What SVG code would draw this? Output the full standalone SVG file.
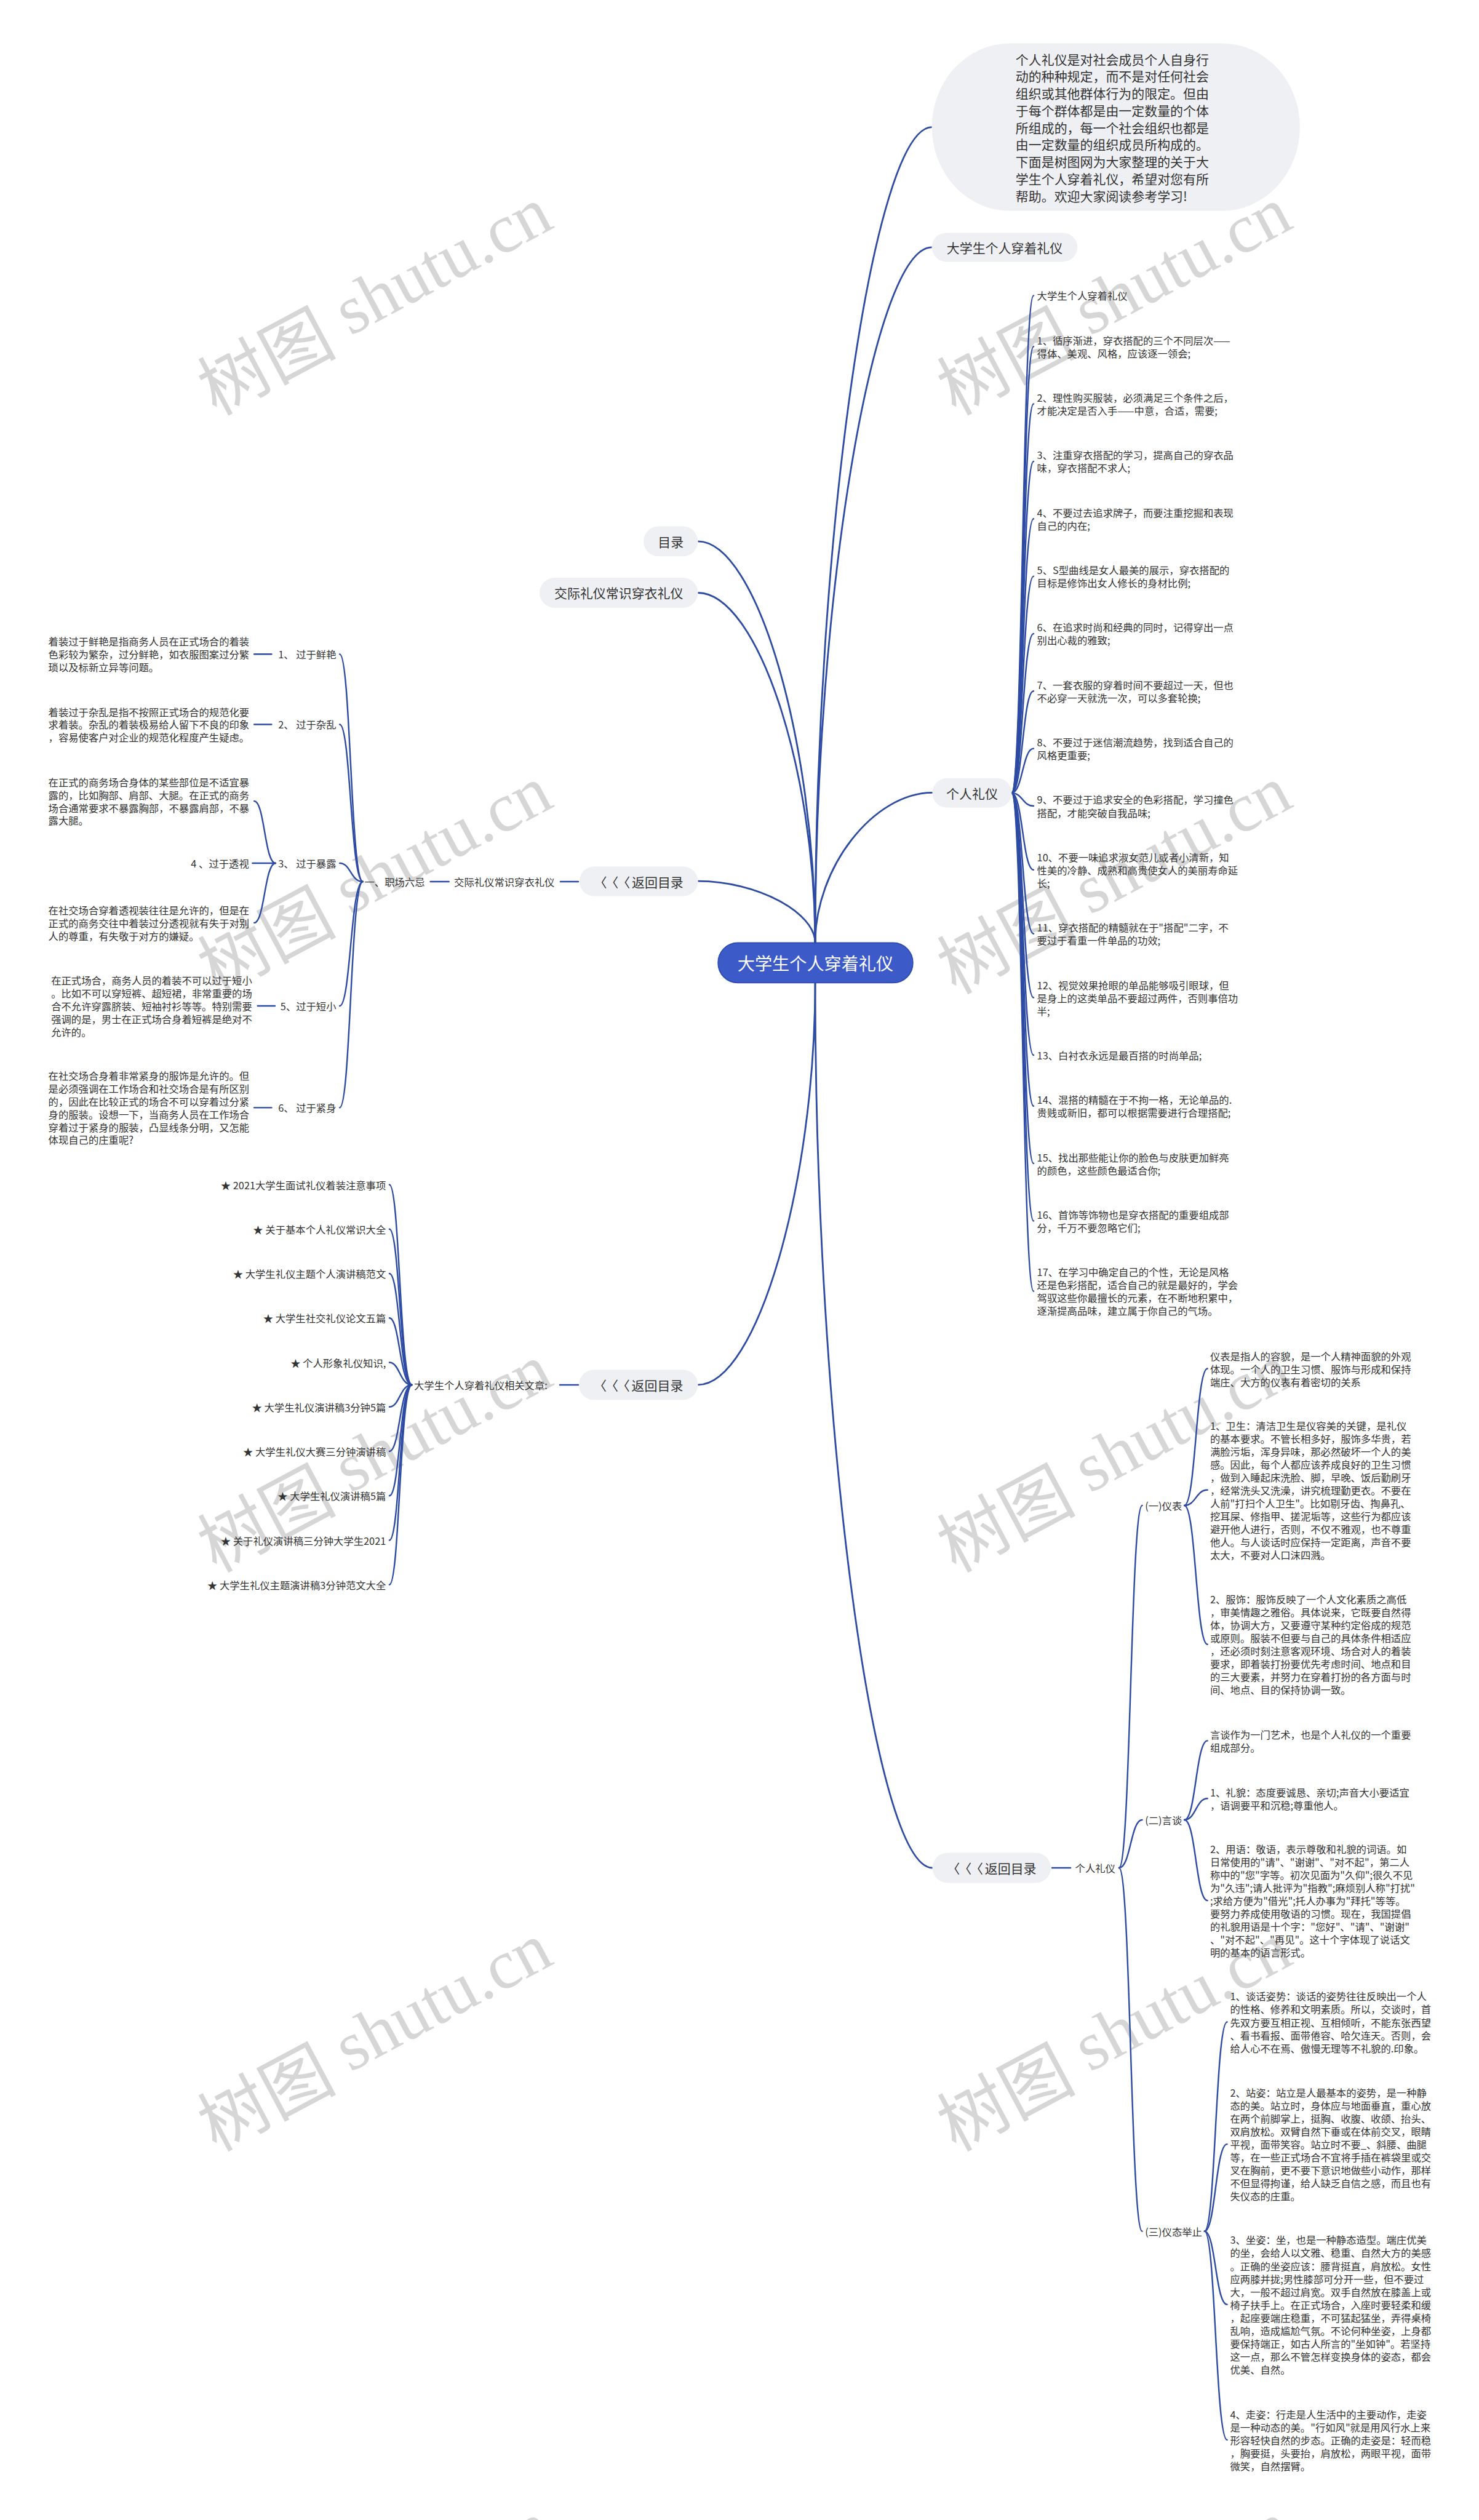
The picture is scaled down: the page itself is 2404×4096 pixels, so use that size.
<svg xmlns="http://www.w3.org/2000/svg" width="2404" height="4096" viewBox="0 0 2404 4096">
<style>
.wm{font-size:120px;fill:#d6d6d6}
.cj{font-family:"Noto Sans CJK SC",sans-serif}
.lt{font-family:"Liberation Serif",serif}
.nd{fill:#eef0f4}
.ln{fill:none;stroke:#2e4ba3;stroke-width:2.6;stroke-linecap:round}
.mln{fill:none;stroke:#2e4ba3;stroke-width:3}
text{font-family:"Noto Sans CJK SC","Noto Sans",sans-serif;fill:#333;dominant-baseline:central}
tspan{dominant-baseline:central}
.s{font-size:17.4px}
.m{font-size:22.3px}
.e{text-anchor:end}
.c{text-anchor:middle}
.root{fill:#3c5bc9;stroke:#2f4cb0;stroke-width:2}
.rt{font-size:30px;fill:#fff;text-anchor:middle}
</style>
<rect width="2404" height="4096" fill="#fff"/>
<g transform="scale(0.93906)">
<g id="watermarks">
<text class="wm" text-anchor="middle" transform="translate(646 515) rotate(-28)"><tspan class="cj">树图</tspan><tspan class="lt"> shutu.cn</tspan></text>
<text class="wm" text-anchor="middle" transform="translate(1926 515) rotate(-28)"><tspan class="cj">树图</tspan><tspan class="lt"> shutu.cn</tspan></text>
<text class="wm" text-anchor="middle" transform="translate(646 1517) rotate(-28)"><tspan class="cj">树图</tspan><tspan class="lt"> shutu.cn</tspan></text>
<text class="wm" text-anchor="middle" transform="translate(1926 1517) rotate(-28)"><tspan class="cj">树图</tspan><tspan class="lt"> shutu.cn</tspan></text>
<text class="wm" text-anchor="middle" transform="translate(646 2518) rotate(-28)"><tspan class="cj">树图</tspan><tspan class="lt"> shutu.cn</tspan></text>
<text class="wm" text-anchor="middle" transform="translate(1926 2518) rotate(-28)"><tspan class="cj">树图</tspan><tspan class="lt"> shutu.cn</tspan></text>
<text class="wm" text-anchor="middle" transform="translate(646 3520) rotate(-28)"><tspan class="cj">树图</tspan><tspan class="lt"> shutu.cn</tspan></text>
<text class="wm" text-anchor="middle" transform="translate(1926 3520) rotate(-28)"><tspan class="cj">树图</tspan><tspan class="lt"> shutu.cn</tspan></text>
<text class="wm" text-anchor="middle" transform="translate(646 4521) rotate(-28)"><tspan class="cj">树图</tspan><tspan class="lt"> shutu.cn</tspan></text>
<text class="wm" text-anchor="middle" transform="translate(1926 4521) rotate(-28)"><tspan class="cj">树图</tspan><tspan class="lt"> shutu.cn</tspan></text>
</g>
<g id="connectors">
<path class="mln" d="M1411 1632 C1411 926 1512 220 1613 220"/>
<path class="mln" d="M1411 1632 C1411 1030 1512 428 1613 428"/>
<path class="mln" d="M1411 1632 C1411 1284 1310 937 1208 937"/>
<path class="mln" d="M1411 1632 C1411 1329 1310 1026 1208 1026"/>
<path class="mln" d="M1411 1632 C1411 1579 1310 1525 1208 1525"/>
<path class="mln" d="M1411 1632 C1411 1502 1512 1372 1614 1372"/>
<path class="mln" d="M1411 1701 C1411 2049 1310 2397 1208 2397"/>
<path class="mln" d="M1411 1701 C1411 2467 1512 3233 1614 3233"/>
<path class="ln" d="M1751 1372.5 C1770 1372.5 1770 511.6 1789 511.6"/>
<path class="ln" d="M1751 1372.5 C1770 1372.5 1770 599.8 1789 599.8"/>
<path class="ln" d="M1751 1372.5 C1770 1372.5 1770 699.2 1789 699.2"/>
<path class="ln" d="M1751 1372.5 C1770 1372.5 1770 798.6 1789 798.6"/>
<path class="ln" d="M1751 1372.5 C1770 1372.5 1770 898 1789 898"/>
<path class="ln" d="M1751 1372.5 C1770 1372.5 1770 997.4 1789 997.4"/>
<path class="ln" d="M1751 1372.5 C1770 1372.5 1770 1096.8 1789 1096.8"/>
<path class="ln" d="M1751 1372.5 C1770 1372.5 1770 1196.2 1789 1196.2"/>
<path class="ln" d="M1751 1372.5 C1770 1372.5 1770 1295.6 1789 1295.6"/>
<path class="ln" d="M1751 1372.5 C1770 1372.5 1770 1395 1789 1395"/>
<path class="ln" d="M1751 1372.5 C1770 1372.5 1770 1505.6 1789 1505.6"/>
<path class="ln" d="M1751 1372.5 C1770 1372.5 1770 1616.2 1789 1616.2"/>
<path class="ln" d="M1751 1372.5 C1770 1372.5 1770 1726.8 1789 1726.8"/>
<path class="ln" d="M1751 1372.5 C1770 1372.5 1770 1826.2 1789 1826.2"/>
<path class="ln" d="M1751 1372.5 C1770 1372.5 1770 1914.4 1789 1914.4"/>
<path class="ln" d="M1751 1372.5 C1770 1372.5 1770 2013.8 1789 2013.8"/>
<path class="ln" d="M1751 1372.5 C1770 1372.5 1770 2113.2 1789 2113.2"/>
<path class="ln" d="M1751 1372.5 C1770 1372.5 1770 2235 1789 2235"/>
<path class="ln" d="M1001 1526 L970 1526"/>
<path class="ln" d="M777 1526 L745 1526"/>
<path class="ln" d="M628 1526 C607 1526 607 1132.2 588 1132.2"/>
<path class="ln" d="M628 1526 C607 1526 607 1253.9 588 1253.9"/>
<path class="ln" d="M628 1526 C607 1526 607 1494 588 1494"/>
<path class="ln" d="M628 1526 C607 1526 607 1741.1 588 1741.1"/>
<path class="ln" d="M628 1526 C607 1526 607 1917.2 588 1917.2"/>
<path class="ln" d="M470 1132.2 L440 1132.2"/>
<path class="ln" d="M470 1253.9 L440 1253.9"/>
<path class="ln" d="M476 1741.1 L446 1741.1"/>
<path class="ln" d="M470 1917.2 L440 1917.2"/>
<path class="ln" d="M477 1494 C458 1494 458 1386.6 440 1386.6"/>
<path class="ln" d="M477 1494 L437 1494"/>
<path class="ln" d="M477 1494 C458 1494 458 1597.2 440 1597.2"/>
<path class="ln" d="M1001 2397 L969 2397"/>
<path class="ln" d="M713 2397 C692 2397 692 2050.5 674 2050.5"/>
<path class="ln" d="M713 2397 C692 2397 692 2127.4 674 2127.4"/>
<path class="ln" d="M713 2397 C692 2397 692 2204.4 674 2204.4"/>
<path class="ln" d="M713 2397 C692 2397 692 2281.3 674 2281.3"/>
<path class="ln" d="M713 2397 C692 2397 692 2358.3 674 2358.3"/>
<path class="ln" d="M713 2397 C692 2397 692 2435.2 674 2435.2"/>
<path class="ln" d="M713 2397 C692 2397 692 2512.1 674 2512.1"/>
<path class="ln" d="M713 2397 C692 2397 692 2589.1 674 2589.1"/>
<path class="ln" d="M713 2397 C692 2397 692 2666 674 2666"/>
<path class="ln" d="M713 2397 C692 2397 692 2743 674 2743"/>
<path class="ln" d="M1821 3233 L1853 3233"/>
<path class="ln" d="M1937 3233 C1957 3233 1957 2605.7 1977 2605.7"/>
<path class="ln" d="M1937 3233 C1957 3233 1957 3150 1977 3150"/>
<path class="ln" d="M1937 3233 C1957 3233 1957 3862 1977 3862"/>
<path class="ln" d="M2050 2605.7 C2070 2605.7 2070 2368.9 2090 2368.9"/>
<path class="ln" d="M2050 2605.7 C2070 2605.7 2070 2579 2090 2579"/>
<path class="ln" d="M2050 2605.7 C2070 2605.7 2070 2846.2 2090 2846.2"/>
<path class="ln" d="M2050 3150 C2070 3150 2070 3013 2090 3013"/>
<path class="ln" d="M2050 3150 C2070 3150 2070 3113 2090 3113"/>
<path class="ln" d="M2050 3150 C2070 3150 2070 3289.6 2090 3289.6"/>
<path class="ln" d="M2085 3862 C2104 3862 2104 3499.8 2124 3499.8"/>
<path class="ln" d="M2085 3862 C2104 3862 2104 3711.3 2124 3711.3"/>
<path class="ln" d="M2085 3862 C2104 3862 2104 3988.7 2124 3988.7"/>
<path class="ln" d="M2085 3862 C2104 3862 2104 4223.1 2124 4223.1"/>
</g>
<g id="root"><rect class="root" x="1243" y="1632" width="337" height="69" rx="34"/><text class="rt" x="1411.5" y="1666.5">大学生个人穿着礼仪</text></g>
<g id="intro"><rect class="nd" x="1613" y="75" width="637" height="290" rx="135" ry="145"/>
<text class="m" x="1758" y="101.7"><tspan x="1758">个人礼仪是对社会成员个人自身行</tspan><tspan x="1758" dy="29.6">动的种种规定，而不是对任何社会</tspan><tspan x="1758" dy="29.6">组织或其他群体行为的限定。但由</tspan><tspan x="1758" dy="29.6">于每个群体都是由一定数量的个体</tspan><tspan x="1758" dy="29.6">所组成的，每一个社会组织也都是</tspan><tspan x="1758" dy="29.6">由一定数量的组织成员所构成的。</tspan><tspan x="1758" dy="29.6">下面是树图网为大家整理的关于大</tspan><tspan x="1758" dy="29.6">学生个人穿着礼仪，希望对您有所</tspan><tspan x="1758" dy="29.6">帮助。欢迎大家阅读参考学习!</tspan></text></g>
<g id="n-title"><rect class="nd" x="1613" y="403" width="252" height="50" rx="25"/><text class="m c" x="1739" y="428">大学生个人穿着礼仪</text></g>
<g id="n-mulu"><rect class="nd" x="1114" y="911" width="94" height="52" rx="26"/><text class="m c" x="1161" y="937">目录</text></g>
<g id="n-jiaoji"><rect class="nd" x="934" y="1000" width="274" height="52" rx="26"/><text class="m c" x="1071" y="1026">交际礼仪常识穿衣礼仪</text></g>
<g id="n-back1"><rect class="nd" x="1003" y="1500" width="205" height="51" rx="25"/><text class="m c" x="1105.5" y="1525.5"><tspan>〈</tspan><tspan dx="9">〈</tspan><tspan dx="9">〈</tspan><tspan dx="3">返回目录</tspan></text></g>
<g id="n-geren"><rect class="nd" x="1614" y="1347" width="137" height="51" rx="25"/><text class="m c" x="1682.5" y="1372.5">个人礼仪</text></g>
<g id="n-back2"><rect class="nd" x="1002" y="2371" width="206" height="52" rx="26"/><text class="m c" x="1105" y="2397"><tspan>〈</tspan><tspan dx="9">〈</tspan><tspan dx="9">〈</tspan><tspan dx="3">返回目录</tspan></text></g>
<g id="n-back3"><rect class="nd" x="1614" y="3207" width="205" height="52" rx="26"/><text class="m c" x="1716.5" y="3233"><tspan>〈</tspan><tspan dx="9">〈</tspan><tspan dx="9">〈</tspan><tspan dx="3">返回目录</tspan></text></g>
<g id="right-list">
<text class="s" x="1795" y="511.6">大学生个人穿着礼仪</text>
<text class="s" x="1795" y="588.6"><tspan x="1795">1、循序渐进，穿衣搭配的三个不同层次——</tspan><tspan x="1795" dy="22.4">得体、美观、风格，应该逐一领会;</tspan></text>
<text class="s" x="1795" y="688"><tspan x="1795">2、理性购买服装，必须满足三个条件之后，</tspan><tspan x="1795" dy="22.4">才能决定是否入手——中意，合适，需要;</tspan></text>
<text class="s" x="1795" y="787.4"><tspan x="1795">3、注重穿衣搭配的学习，提高自己的穿衣品</tspan><tspan x="1795" dy="22.4">味，穿衣搭配不求人;</tspan></text>
<text class="s" x="1795" y="886.8"><tspan x="1795">4、不要过去追求牌子，而要注重挖掘和表现</tspan><tspan x="1795" dy="22.4">自己的内在;</tspan></text>
<text class="s" x="1795" y="986.2"><tspan x="1795">5、S型曲线是女人最美的展示，穿衣搭配的</tspan><tspan x="1795" dy="22.4">目标是修饰出女人修长的身材比例;</tspan></text>
<text class="s" x="1795" y="1085.6"><tspan x="1795">6、在追求时尚和经典的同时，记得穿出一点</tspan><tspan x="1795" dy="22.4">别出心裁的雅致;</tspan></text>
<text class="s" x="1795" y="1185"><tspan x="1795">7、一套衣服的穿着时间不要超过一天，但也</tspan><tspan x="1795" dy="22.4">不必穿一天就洗一次，可以多套轮换;</tspan></text>
<text class="s" x="1795" y="1284.4"><tspan x="1795">8、不要过于迷信潮流趋势，找到适合自己的</tspan><tspan x="1795" dy="22.4">风格更重要;</tspan></text>
<text class="s" x="1795" y="1383.8"><tspan x="1795">9、不要过于追求安全的色彩搭配，学习撞色</tspan><tspan x="1795" dy="22.4">搭配，才能突破自我品味;</tspan></text>
<text class="s" x="1795" y="1483.2"><tspan x="1795">10、不要一味追求淑女范儿或者小清新，知</tspan><tspan x="1795" dy="22.4">性美的冷静、成熟和高贵使女人的美丽寿命延</tspan><tspan x="1795" dy="22.4">长;</tspan></text>
<text class="s" x="1795" y="1605"><tspan x="1795">11、穿衣搭配的精髓就在于"搭配"二字，不</tspan><tspan x="1795" dy="22.4">要过于看重一件单品的功效;</tspan></text>
<text class="s" x="1795" y="1704.4"><tspan x="1795">12、视觉效果抢眼的单品能够吸引眼球，但</tspan><tspan x="1795" dy="22.4">是身上的这类单品不要超过两件，否则事倍功</tspan><tspan x="1795" dy="22.4">半;</tspan></text>
<text class="s" x="1795" y="1826.2">13、白衬衣永远是最百搭的时尚单品;</text>
<text class="s" x="1795" y="1903.2"><tspan x="1795">14、混搭的精髓在于不拘一格，无论单品的.</tspan><tspan x="1795" dy="22.4">贵贱或新旧，都可以根据需要进行合理搭配;</tspan></text>
<text class="s" x="1795" y="2002.6"><tspan x="1795">15、找出那些能让你的脸色与皮肤更加鲜亮</tspan><tspan x="1795" dy="22.4">的颜色，这些颜色最适合你;</tspan></text>
<text class="s" x="1795" y="2102"><tspan x="1795">16、首饰等饰物也是穿衣搭配的重要组成部</tspan><tspan x="1795" dy="22.4">分，千万不要忽略它们;</tspan></text>
<text class="s" x="1795" y="2201.4"><tspan x="1795">17、在学习中确定自己的个性，无论是风格</tspan><tspan x="1795" dy="22.4">还是色彩搭配，适合自己的就是最好的，学会</tspan><tspan x="1795" dy="22.4">驾驭这些你最擅长的元素，在不断地积累中，</tspan><tspan x="1795" dy="22.4">逐渐提高品味，建立属于你自己的气场。</tspan></text>
</g>
<g id="left-group">
<text class="s" x="786" y="1526">交际礼仪常识穿衣礼仪</text>
<text class="s" x="631" y="1526">一、职场六忌</text>
<text class="s e" x="582" y="1132.2">1、 过于鲜艳</text>
<text class="s e" x="582" y="1253.9">2、 过于杂乱</text>
<text class="s e" x="582" y="1494">3、 过于暴露</text>
<text class="s e" x="431" y="1494">4 、过于透视</text>
<text class="s e" x="582" y="1741.1">5、过于短小</text>
<text class="s e" x="582" y="1917.2">6、 过于紧身</text>
<text class="s" x="83.7" y="1110"><tspan x="83.7">着装过于鲜艳是指商务人员在正式场合的着装</tspan><tspan x="83.7" dy="22.2">色彩较为繁杂，过分鲜艳，如衣服图案过分繁</tspan><tspan x="83.7" dy="22.2">琐以及标新立异等问题。</tspan></text>
<text class="s" x="83.7" y="1231.7"><tspan x="83.7">着装过于杂乱是指不按照正式场合的规范化要</tspan><tspan x="83.7" dy="22.2">求着装。杂乱的着装极易给人留下不良的印象</tspan><tspan x="83.7" dy="22.2">，容易使客户对企业的规范化程度产生疑虑。</tspan></text>
<text class="s" x="83.7" y="1353.3"><tspan x="83.7">在正式的商务场合身体的某些部位是不适宜暴</tspan><tspan x="83.7" dy="22.2">露的，比如胸部、肩部、大腿。在正式的商务</tspan><tspan x="83.7" dy="22.2">场合通常要求不暴露胸部，不暴露肩部，不暴</tspan><tspan x="83.7" dy="22.2">露大腿。</tspan></text>
<text class="s" x="83.7" y="1575"><tspan x="83.7">在社交场合穿着透视装往往是允许的，但是在</tspan><tspan x="83.7" dy="22.2">正式的商务交往中着装过分透视就有失于对别</tspan><tspan x="83.7" dy="22.2">人的尊重，有失敬于对方的嫌疑。</tspan></text>
<text class="s" x="88.6" y="1696.7"><tspan x="88.6">在正式场合，商务人员的着装不可以过于短小</tspan><tspan x="88.6" dy="22.2">。比如不可以穿短裤、超短裙，非常重要的场</tspan><tspan x="88.6" dy="22.2">合不允许穿露脐装、短袖衬衫等等。特别需要</tspan><tspan x="88.6" dy="22.2">强调的是，男士在正式场合身着短裤是绝对不</tspan><tspan x="88.6" dy="22.2">允许的。</tspan></text>
<text class="s" x="83.7" y="1861.7"><tspan x="83.7">在社交场合身着非常紧身的服饰是允许的。但</tspan><tspan x="83.7" dy="22.2">是必须强调在工作场合和社交场合是有所区别</tspan><tspan x="83.7" dy="22.2">的，因此在比较正式的场合不可以穿着过分紧</tspan><tspan x="83.7" dy="22.2">身的服装。设想一下，当商务人员在工作场合</tspan><tspan x="83.7" dy="22.2">穿着过于紧身的服装，凸显线条分明，又怎能</tspan><tspan x="83.7" dy="22.2">体现自己的庄重呢?</tspan></text>
</g>
<g id="star-group">
<text class="s" x="716.7" y="2397">大学生个人穿着礼仪相关文章:</text>
<text class="s e" x="668" y="2050.5">★ 2021大学生面试礼仪着装注意事项</text>
<text class="s e" x="668" y="2127.4">★ 关于基本个人礼仪常识大全</text>
<text class="s e" x="668" y="2204.4">★ 大学生礼仪主题个人演讲稿范文</text>
<text class="s e" x="668" y="2281.3">★ 大学生社交礼仪论文五篇</text>
<text class="s e" x="668" y="2358.3">★ 个人形象礼仪知识,</text>
<text class="s e" x="668" y="2435.2">★ 大学生礼仪演讲稿3分钟5篇</text>
<text class="s e" x="668" y="2512.1">★ 大学生礼仪大赛三分钟演讲稿</text>
<text class="s e" x="668" y="2589.1">★ 大学生礼仪演讲稿5篇</text>
<text class="s e" x="668" y="2666">★ 关于礼仪演讲稿三分钟大学生2021</text>
<text class="s e" x="668" y="2743">★ 大学生礼仪主题演讲稿3分钟范文大全</text>
</g>
<g id="geren-group">
<text class="s" x="1861" y="3233">个人礼仪</text>
<text class="s" x="1982" y="2605.7">(一)仪表</text>
<text class="s" x="1982" y="3150">(二)言谈</text>
<text class="s" x="1982" y="3862">(三)仪态举止</text>
<text class="s" x="2094.6" y="2346.5"><tspan x="2094.6">仪表是指人的容貌，是一个人精神面貌的外观</tspan><tspan x="2094.6" dy="22.4">体现。一个人的卫生习惯、服饰与形成和保持</tspan><tspan x="2094.6" dy="22.4">端庄、大方的仪表有着密切的关系</tspan></text>
<text class="s" x="2094.6" y="2467"><tspan x="2094.6">1、卫生：清洁卫生是仪容美的关键，是礼仪</tspan><tspan x="2094.6" dy="22.4">的基本要求。不管长相多好，服饰多华贵，若</tspan><tspan x="2094.6" dy="22.4">满脸污垢，浑身异味，那必然破坏一个人的美</tspan><tspan x="2094.6" dy="22.4">感。因此，每个人都应该养成良好的卫生习惯</tspan><tspan x="2094.6" dy="22.4">，做到入睡起床洗脸、脚，早晚、饭后勤刷牙</tspan><tspan x="2094.6" dy="22.4">，经常洗头又洗澡，讲究梳理勤更衣。不要在</tspan><tspan x="2094.6" dy="22.4">人前"打扫个人卫生"。比如剔牙齿、掏鼻孔、</tspan><tspan x="2094.6" dy="22.4">挖耳屎、修指甲、搓泥垢等，这些行为都应该</tspan><tspan x="2094.6" dy="22.4">避开他人进行，否则，不仅不雅观，也不尊重</tspan><tspan x="2094.6" dy="22.4">他人。与人谈话时应保持一定距离，声音不要</tspan><tspan x="2094.6" dy="22.4">太大，不要对人口沫四溅。</tspan></text>
<text class="s" x="2094.6" y="2767.8"><tspan x="2094.6">2、服饰：服饰反映了一个人文化素质之高低</tspan><tspan x="2094.6" dy="22.4">，审美情趣之雅俗。具体说来，它既要自然得</tspan><tspan x="2094.6" dy="22.4">体，协调大方，又要遵守某种约定俗成的规范</tspan><tspan x="2094.6" dy="22.4">或原则。服装不但要与自己的具体条件相适应</tspan><tspan x="2094.6" dy="22.4">，还必须时刻注意客观环境、场合对人的着装</tspan><tspan x="2094.6" dy="22.4">要求，即着装打扮要优先考虑时间、地点和目</tspan><tspan x="2094.6" dy="22.4">的三大要素，并努力在穿着打扮的各方面与时</tspan><tspan x="2094.6" dy="22.4">间、地点、目的保持协调一致。</tspan></text>
<text class="s" x="2094.6" y="3001.8"><tspan x="2094.6">言谈作为一门艺术，也是个人礼仪的一个重要</tspan><tspan x="2094.6" dy="22.4">组成部分。</tspan></text>
<text class="s" x="2094.6" y="3101.8"><tspan x="2094.6">1、礼貌：态度要诚恳、亲切;声音大小要适宜</tspan><tspan x="2094.6" dy="22.4">，语调要平和沉稳;尊重他人。</tspan></text>
<text class="s" x="2094.6" y="3200"><tspan x="2094.6">2、用语：敬语，表示尊敬和礼貌的词语。如</tspan><tspan x="2094.6" dy="22.4">日常使用的"请"、"谢谢"、"对不起"，第二人</tspan><tspan x="2094.6" dy="22.4">称中的"您"字等。初次见面为"久仰";很久不见</tspan><tspan x="2094.6" dy="22.4">为"久违";请人批评为"指教";麻烦别人称"打扰"</tspan><tspan x="2094.6" dy="22.4">;求给方便为"借光";托人办事为"拜托"等等。</tspan><tspan x="2094.6" dy="22.4">要努力养成使用敬语的习惯。现在，我国提倡</tspan><tspan x="2094.6" dy="22.4">的礼貌用语是十个字："您好"、"请"、"谢谢"</tspan><tspan x="2094.6" dy="22.4">、"对不起"、"再见"。这十个字体现了说话文</tspan><tspan x="2094.6" dy="22.4">明的基本的语言形式。</tspan></text>
<text class="s" x="2129.3" y="3455"><tspan x="2129.3">1、谈话姿势：谈话的姿势往往反映出一个人</tspan><tspan x="2129.3" dy="22.4">的性格、修养和文明素质。所以，交谈时，首</tspan><tspan x="2129.3" dy="22.4">先双方要互相正视、互相倾听，不能东张西望</tspan><tspan x="2129.3" dy="22.4">、看书看报、面带倦容、哈欠连天。否则，会</tspan><tspan x="2129.3" dy="22.4">给人心不在焉、傲慢无理等不礼貌的.印象。</tspan></text>
<text class="s" x="2129.3" y="3621.7"><tspan x="2129.3">2、站姿：站立是人最基本的姿势，是一种静</tspan><tspan x="2129.3" dy="22.4">态的美。站立时，身体应与地面垂直，重心放</tspan><tspan x="2129.3" dy="22.4">在两个前脚掌上，挺胸、收腹、收颌、抬头、</tspan><tspan x="2129.3" dy="22.4">双肩放松。双臂自然下垂或在体前交叉，眼睛</tspan><tspan x="2129.3" dy="22.4">平视，面带笑容。站立时不要_、斜腰、曲腿</tspan><tspan x="2129.3" dy="22.4">等，在一些正式场合不宜将手插在裤袋里或交</tspan><tspan x="2129.3" dy="22.4">叉在胸前，更不要下意识地做些小动作，那样</tspan><tspan x="2129.3" dy="22.4">不但显得拘谨，给人缺乏自信之感，而且也有</tspan><tspan x="2129.3" dy="22.4">失仪态的庄重。</tspan></text>
<text class="s" x="2129.3" y="3876.7"><tspan x="2129.3">3、坐姿：坐，也是一种静态造型。端庄优美</tspan><tspan x="2129.3" dy="22.4">的坐，会给人以文雅、稳重、自然大方的美感</tspan><tspan x="2129.3" dy="22.4">。正确的坐姿应该：腰背挺直，肩放松。女性</tspan><tspan x="2129.3" dy="22.4">应两膝并拢;男性膝部可分开一些，但不要过</tspan><tspan x="2129.3" dy="22.4">大，一般不超过肩宽。双手自然放在膝盖上或</tspan><tspan x="2129.3" dy="22.4">椅子扶手上。在正式场合，入座时要轻柔和缓</tspan><tspan x="2129.3" dy="22.4">，起座要端庄稳重，不可猛起猛坐，弄得桌椅</tspan><tspan x="2129.3" dy="22.4">乱响，造成尴尬气氛。不论何种坐姿，上身都</tspan><tspan x="2129.3" dy="22.4">要保持端正，如古人所言的"坐如钟"。若坚持</tspan><tspan x="2129.3" dy="22.4">这一点，那么不管怎样变换身体的姿态，都会</tspan><tspan x="2129.3" dy="22.4">优美、自然。</tspan></text>
<text class="s" x="2129.3" y="4178.3"><tspan x="2129.3">4、走姿：行走是人生活中的主要动作，走姿</tspan><tspan x="2129.3" dy="22.4">是一种动态的美。"行如风"就是用风行水上来</tspan><tspan x="2129.3" dy="22.4">形容轻快自然的步态。正确的走姿是：轻而稳</tspan><tspan x="2129.3" dy="22.4">，胸要挺，头要抬，肩放松，两眼平视，面带</tspan><tspan x="2129.3" dy="22.4">微笑，自然摆臂。</tspan></text>
</g>
</g>
</svg>
